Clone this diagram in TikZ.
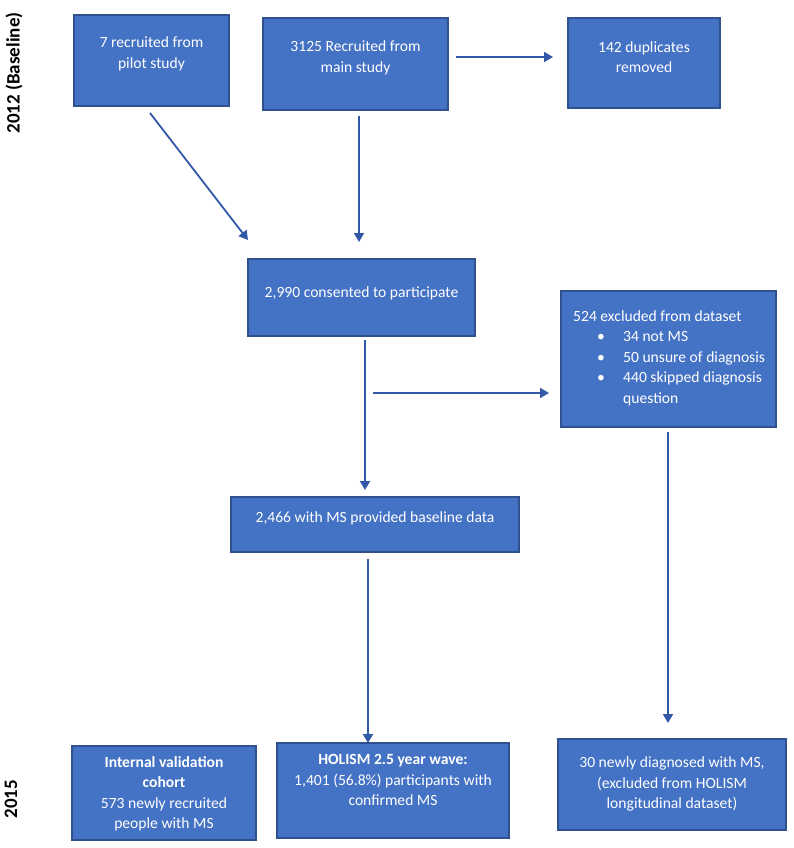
\documentclass[tikz,border=0pt]{standalone}
\usepackage{fontspec}
\setmainfont{Carlito}
\usetikzlibrary{arrows.meta}
\definecolor{boxfill}{RGB}{68,114,196}
\definecolor{boxline}{RGB}{47,82,143}
\definecolor{arrowcol}{RGB}{50,88,168}
\tikzset{
  box/.style={draw=boxline, fill=boxfill, line width=1.2pt, inner sep=0pt},
  boxtext/.style={text=white, font=\fontsize{15.6}{20.5}\selectfont, align=center, inner sep=0pt},
  flow/.style={draw=arrowcol, line width=1.8pt, -{Triangle[length=9pt,width=10pt]}},
  yeartext/.style={font=\fontsize{19}{22}\selectfont\bfseries, rotate=90, inner sep=0pt}
}
\begin{document}
\begin{tikzpicture}[x=1pt,y=-1pt]
\useasboundingbox (0,0) rectangle (794,848);
% year labels
\node[yeartext] (y2012) at (14,73) {2012 (Baseline)};
\node[yeartext] (y2015) at (11,799) {2015};
% boxes
\node[box, minimum width=155pt, minimum height=91pt] (A) at (151.5,60.5) {};
\node[box, minimum width=185pt, minimum height=92pt] (B) at (355.5,64) {};
\node[box, minimum width=152pt, minimum height=90pt] (C) at (644,63) {};
\node[box, minimum width=227pt, minimum height=77pt] (D) at (361.5,297.5) {};
\node[box, minimum width=215pt, minimum height=136pt] (E) at (668.5,359) {};
\node[box, minimum width=288pt, minimum height=55pt] (F) at (375,524.5) {};
\node[box, minimum width=184pt, minimum height=94pt] (G) at (164,793) {};
\node[box, minimum width=232pt, minimum height=95pt] (H) at (393,790.5) {};
\node[box, minimum width=228pt, minimum height=91pt] (I) at (672,784.5) {};
% texts
\node[boxtext] (At) at (151.5,54) {7 recruited from\\pilot study};
\node[boxtext] (Bt) at (355.5,58) {3125 Recruited from\\main study};
\node[boxtext] (Ct) at (644,57) {142 duplicates\\removed};
\node[boxtext] (Dt) at (361.5,293) {2,990 consented to participate};
\node[boxtext, align=left, anchor=west] (Et) at (573,358) {524 excluded from dataset\\
\hspace*{24pt}\makebox[26pt][l]{\textbullet}34 not MS\\
\hspace*{24pt}\makebox[26pt][l]{\textbullet}50 unsure of diagnosis\\
\hspace*{24pt}\makebox[26pt][l]{\textbullet}440 skipped diagnosis\\
\hspace*{50pt}question};
\node[boxtext] (Ft) at (375,518) {2,466 with MS provided baseline data};
\node[boxtext] (Gt) at (164,794) {\textbf{Internal validation}\\\textbf{cohort}\\573 newly recruited\\people with MS};
\node[boxtext] (Ht) at (393,780) {\textbf{HOLISM 2.5 year wave:}\\1,401 (56.8\%) participants with\\confirmed MS};
\node[boxtext] (It) at (672,784) {30 newly diagnosed with MS,\\(excluded from HOLISM\\longitudinal dataset)};
% connector end points
\coordinate (a1) at (150,113);
\coordinate (a2) at (248,240);
\coordinate (b1) at (359,116);
\coordinate (b2) at (359,242);
\coordinate (c1) at (456,57);
\coordinate (c2) at (553,57);
\coordinate (d1) at (365,340);
\coordinate (d2) at (365,490);
\coordinate (e1) at (373,393);
\coordinate (e2) at (549,393);
\coordinate (f1) at (368,559);
\coordinate (f2) at (368,743);
\coordinate (g1) at (668,432);
\coordinate (g2) at (668,723);
% connectors
\draw[flow] (a1) -- (a2);
\draw[flow] (b1) -- (b2);
\draw[flow] (c1) -- (c2);
\draw[flow] (d1) -- (d2);
\draw[flow] (e1) -- (e2);
\draw[flow] (f1) -- (f2);
\draw[flow] (g1) -- (g2);
\end{tikzpicture}
\end{document}
